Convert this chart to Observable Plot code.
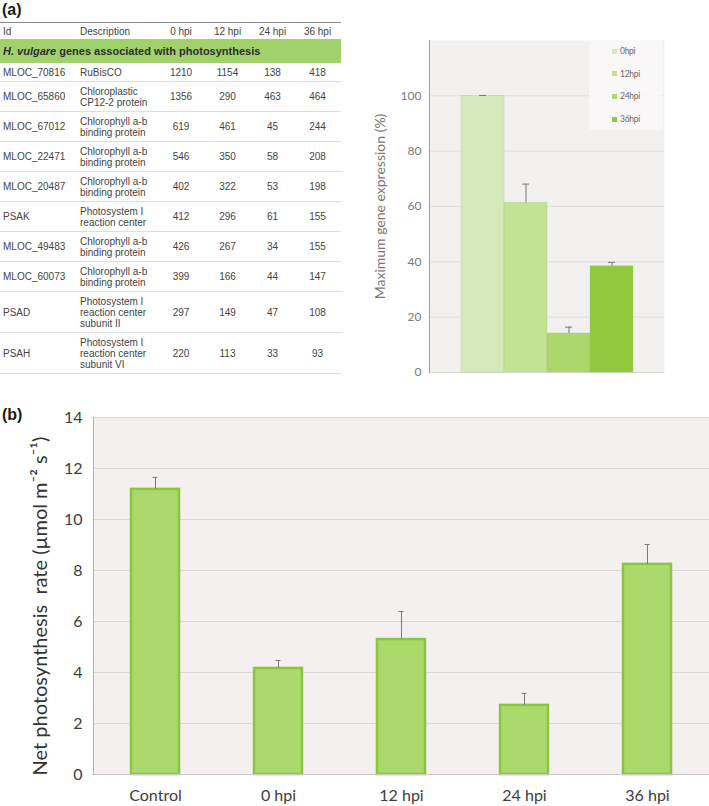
<!DOCTYPE html>
<html><head><meta charset="utf-8">
<script src="https://cdn.jsdelivr.net/npm/d3@7"></script>
<script src="https://cdn.jsdelivr.net/npm/@observablehq/plot@0.6"></script>
<style>
body{margin:0;background:#fff;}
#root{position:relative;width:709px;height:806px;overflow:hidden;background:#fff;}
.panel{position:absolute;font-family:"Liberation Sans",Arial,sans-serif;font-weight:bold;color:#1a1a1a;font-size:16px;}
#tbl{position:absolute;left:0;top:22px;width:341px;border-collapse:collapse;table-layout:fixed;font:10px "Liberation Sans",Arial,sans-serif;color:#444;}
#tbl th{font-weight:normal;height:16px;padding:0;border-top:1.5px solid #8a8a8a;vertical-align:middle;}
#tbl td{padding:3.5px 0;line-height:11px;border-bottom:1px solid #dedede;vertical-align:middle;white-space:pre-line;}
#tbl td.band{background:#a0d16b;padding:6px 0 6px 3px;line-height:12px;font-size:11px;font-weight:bold;color:#2e2e2e;border-bottom:none;}
#tbl .c0{text-align:left;padding-left:3px;}
#tbl .c1{text-align:left;padding-left:2px;}
#tbl .cn{text-align:center;}
#legendA{position:absolute;left:589px;top:40px;width:73px;height:90px;background:rgba(249,248,248,0.85);font-family:"Liberation Sans Narrow","Lato",sans-serif;font-size:8.5px;color:#6a6a6a;}
#legendA .it{position:absolute;left:23px;display:flex;align-items:center;height:10px;letter-spacing:-0.3px;}
#legendA .sw{width:5px;height:5px;margin-right:3px;}
#chartA{position:absolute;left:360px;top:0;}
#chartB{position:absolute;left:0;top:400px;}
</style></head>
<body><div id="root">
<div class="panel" style="left:2px;top:1px;">(a)</div>
<div class="panel" style="left:2px;top:406px;">(b)</div>
<table id="tbl"><colgroup><col style="width:78px"><col style="width:80px"><col style="width:46px"><col style="width:47px"><col style="width:43px"><col style="width:47px"></colgroup><thead></thead><tbody></tbody></table>
<div id="chartA"></div>
<div id="legendA"></div>
<div id="chartB"></div>
</div>
<script>
// ---- Table data ----
const tableHeaders = ["Id", "Description", "0 hpi", "12 hpi", "24 hpi", "36 hpi"];
const groupSpecies = "H. vulgare";
const groupTitle = " genes associated with photosynthesis";
const geneIds = ["MLOC_70816", "MLOC_65860", "MLOC_67012", "MLOC_22471", "MLOC_20487", "PSAK", "MLOC_49483", "MLOC_60073", "PSAD", "PSAH"];
const geneDescriptions = ["RuBisCO", "Chloroplastic\nCP12-2 protein", "Chlorophyll a-b\nbinding protein", "Chlorophyll a-b\nbinding protein", "Chlorophyll a-b\nbinding protein", "Photosystem I\nreaction center", "Chlorophyll a-b\nbinding protein", "Chlorophyll a-b\nbinding protein", "Photosystem I\nreaction center\nsubunit II", "Photosystem I\nreaction center\nsubunit VI"];
const expr0hpi = [1210, 1356, 619, 546, 402, 412, 426, 399, 297, 220];
const expr12hpi = [1154, 290, 461, 350, 322, 296, 267, 166, 149, 113];
const expr24hpi = [138, 463, 45, 58, 53, 61, 34, 44, 47, 33];
const expr36hpi = [418, 464, 244, 208, 198, 155, 155, 147, 108, 93];

// ---- Chart (a) data ----
const timepoints = ["0 hpi", "12 hpi", "24 hpi", "36 hpi"];
const maxExpression = [100, 61.3, 14.1, 38.4];
const maxExpressionErr = [0.15, 6.8, 2.3, 1.4];
const yTicksA = [0, 20, 40, 60, 80, 100];
const colorsA = ["#d6e9bb", "#c3e293", "#acd86b", "#91c93e"];

// ---- Chart (b) data ----
const treatments = ["Control", "0 hpi", "12 hpi", "24 hpi", "36 hpi"];
const netPhotosynthesis = [11.18, 4.16, 5.29, 2.71, 8.24];
const netPhotosynthesisErr = [0.47, 0.31, 1.10, 0.47, 0.78];
const yTicksB = [0, 2, 4, 6, 8, 10, 12, 14];

// ---- Build table ----
const thead = document.querySelector("#tbl thead");
const hr = document.createElement("tr");
tableHeaders.forEach((h, i) => {
  const th = document.createElement("th");
  th.textContent = h;
  th.className = i === 0 ? "c0" : i === 1 ? "c1" : "cn";
  hr.appendChild(th);
});
thead.appendChild(hr);
const tbody = document.querySelector("#tbl tbody");
const br = document.createElement("tr");
const btd = document.createElement("td");
btd.colSpan = 6; btd.className = "band";
const em = document.createElement("i"); em.textContent = groupSpecies;
btd.appendChild(em); btd.appendChild(document.createTextNode(groupTitle));
br.appendChild(btd); tbody.appendChild(br);
geneIds.forEach((id, i) => {
  const tr = document.createElement("tr");
  const cells = [id, geneDescriptions[i], expr0hpi[i], expr12hpi[i], expr24hpi[i], expr36hpi[i]];
  cells.forEach((c, j) => {
    const td = document.createElement("td");
    td.textContent = c;
    td.className = j === 0 ? "c0" : j === 1 ? "c1" : "cn";
    tr.appendChild(td);
  });
  tbody.appendChild(tr);
});

// ---- Chart (a) ----
const dataA = timepoints.map((t, i) => ({t, v: maxExpression[i], e: maxExpressionErr[i]}));
const chartA = Plot.plot({
  width: 349, height: 400,
  marginLeft: 69, marginRight: 45, marginTop: 40, marginBottom: 28,
  style: {fontFamily: "Lato, sans-serif", background: "transparent", color: "#7a7a7a"},
  x: {domain: timepoints, padding: 0, insetLeft: 32, insetRight: 31, axis: null},
  y: {domain: [0, 120]},
  color: {domain: timepoints, range: colorsA},
  marks: [
    Plot.frame({fill: "#f3f1f0", stroke: null}),
    Plot.gridY(yTicksA.slice(1), {stroke: "#e2dedd", strokeOpacity: 1}),
    Plot.barY(dataA, {x: "t", y: "v", fill: "t", stroke: "#9dc86a", strokeWidth: 0.6, strokeOpacity: 0.5}),
    Plot.ruleX(dataA, {x: "t", y1: "v", y2: d => d.v + d.e, stroke: "#777"}),
    Plot.tickY(dataA, {x: "t", y: d => d.v + d.e, stroke: "#777", insetLeft: 18, insetRight: 18}),
    Plot.ruleY([0], {stroke: "#cfd9c4"}),
    Plot.frame({anchor: "left", stroke: "#a0a0a0"}),
    Plot.axisY(yTicksA, {tickSize: 0, tickPadding: 8, fontSize: 12, label: null}),
    Plot.text(["Maximum gene expression (%)"], {frameAnchor: "left", rotate: -90, dx: -49, textAnchor: "middle", lineAnchor: "middle", fontSize: 14, fill: "#777"})
  ]
});
document.getElementById("chartA").appendChild(chartA);

// legend (a)
const legendA = document.getElementById("legendA");
timepoints.forEach((t, i) => {
  const it = document.createElement("div");
  it.className = "it";
  it.style.top = (6 + i * 22.7) + "px";
  const sw = document.createElement("span");
  sw.className = "sw"; sw.style.background = colorsA[i];
  it.appendChild(sw);
  it.appendChild(document.createTextNode(t.replace(" ", "")));
  legendA.appendChild(it);
});

// ---- Chart (b) ----
const dataB = treatments.map((t, i) => ({t, v: netPhotosynthesis[i], e: netPhotosynthesisErr[i]}));
const chartB = Plot.plot({
  width: 709, height: 406,
  marginLeft: 93, marginRight: 0, marginTop: 17, marginBottom: 32,
  style: {fontFamily: "Lato, sans-serif", background: "transparent", color: "#3d3d3d"},
  x: {domain: treatments, paddingInner: 0.61, paddingOuter: 0.305},
  y: {domain: [0, 14]},
  marks: [
    Plot.frame({fill: "#f3f0ef", stroke: null}),
    Plot.gridY(yTicksB.slice(1), {stroke: "#dcd8d7", strokeOpacity: 1}),
    Plot.barY(dataB, {x: "t", y: "v", fill: "#abd96b", stroke: "#8cc63f", strokeWidth: 2.5}),
    Plot.ruleX(dataB, {x: "t", y1: "v", y2: d => d.v + d.e, stroke: "#7a7a7a"}),
    Plot.tickY(dataB, {x: "t", y: d => d.v + d.e, stroke: "#7a7a7a", insetLeft: 21.5, insetRight: 21.5}),
    Plot.ruleY([0], {stroke: "#c8c8c8"}),
    Plot.frame({anchor: "left", stroke: "#b0b0b0"}),
    Plot.axisX({tickSize: 0, tickPadding: 15, fontSize: 16, label: null}),
    Plot.axisY(yTicksB, {tickSize: 0, tickPadding: 11, fontSize: 16, label: null}),
    Plot.text(["Net photosynthesis\u00a0 rate (\u00b5mol m\u207b\u00b2 s\u207b\u00b9)"], {frameAnchor: "left", rotate: -90, dx: -53, dy: 10, textAnchor: "middle", lineAnchor: "middle", fontSize: 20, fill: "#333"})
  ]
});
document.getElementById("chartB").appendChild(chartB);
</script>
</body></html>
